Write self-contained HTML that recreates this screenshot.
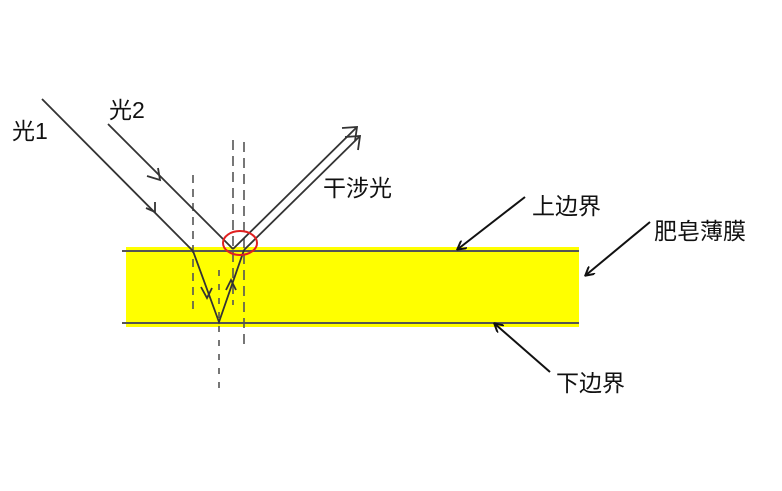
<!DOCTYPE html>
<html><head><meta charset="utf-8"><style>
html,body{margin:0;padding:0;background:#fff;}
svg text{font-family:"Liberation Sans","Noto Sans CJK SC",sans-serif;font-size:23px;fill:#111;}
</style></head><body>
<svg width="782" height="486" viewBox="0 0 782 486" xmlns="http://www.w3.org/2000/svg">
<defs>
<marker id="ah" markerWidth="10" markerHeight="10" refX="8" refY="5" orient="auto" markerUnits="userSpaceOnUse">
<path d="M0,0 L9,5 L0,10" fill="none" stroke="#111" stroke-width="2"/>
</marker>
</defs>
<rect x="126" y="247" width="453" height="80" fill="#ffff00"/>
<line x1="122" y1="251" x2="579" y2="251" stroke="#555" stroke-width="2"/>
<line x1="122" y1="323" x2="579" y2="323" stroke="#555" stroke-width="2"/>
<g stroke="#555" stroke-width="1.6" fill="none">
<line x1="193" y1="175" x2="193" y2="310" stroke-dasharray="8,6"/>
<line x1="219" y1="270" x2="219" y2="388" stroke-dasharray="6,8"/>
<line x1="233" y1="140" x2="233" y2="305" stroke-dasharray="10,6"/>
<line x1="244" y1="142" x2="244" y2="345" stroke-dasharray="10,6"/>
</g>
<g stroke="#333" stroke-width="1.8" fill="none">
<line x1="42" y1="99" x2="193" y2="251"/>
<line x1="108" y1="124" x2="233" y2="249"/>
<polyline points="193,251 219,322 244,250"/>
<line x1="233" y1="249" x2="357" y2="127"/>
<line x1="244" y1="250" x2="360" y2="136"/>
<polyline points="147,176 160,180 158,168"/>
<polyline points="146,208 155,212 155,202"/>
<polyline points="201,287 207,298 212,288"/>
<polyline points="226,290 231,280 236,290"/>
<polyline points="342,128 357,127 355,141"/>
<polyline points="345,137 360,136 358,150"/>
</g>
<ellipse cx="240" cy="243" rx="17" ry="12" fill="none" stroke="#e02020" stroke-width="2"/>
<g stroke="#111" stroke-width="2">
<line x1="525" y1="197" x2="458" y2="249" marker-end="url(#ah)"/>
<line x1="650" y1="222" x2="586" y2="275" marker-end="url(#ah)"/>
<line x1="550" y1="372" x2="495" y2="324" marker-end="url(#ah)"/>
</g>
<text x="12" y="139">光1</text>
<text x="109" y="118">光2</text>
<text x="323" y="196">干涉光</text>
<text x="532" y="214">上边界</text>
<text x="654" y="239">肥皂薄膜</text>
<text x="556" y="391">下边界</text>
</svg>
</body></html>
